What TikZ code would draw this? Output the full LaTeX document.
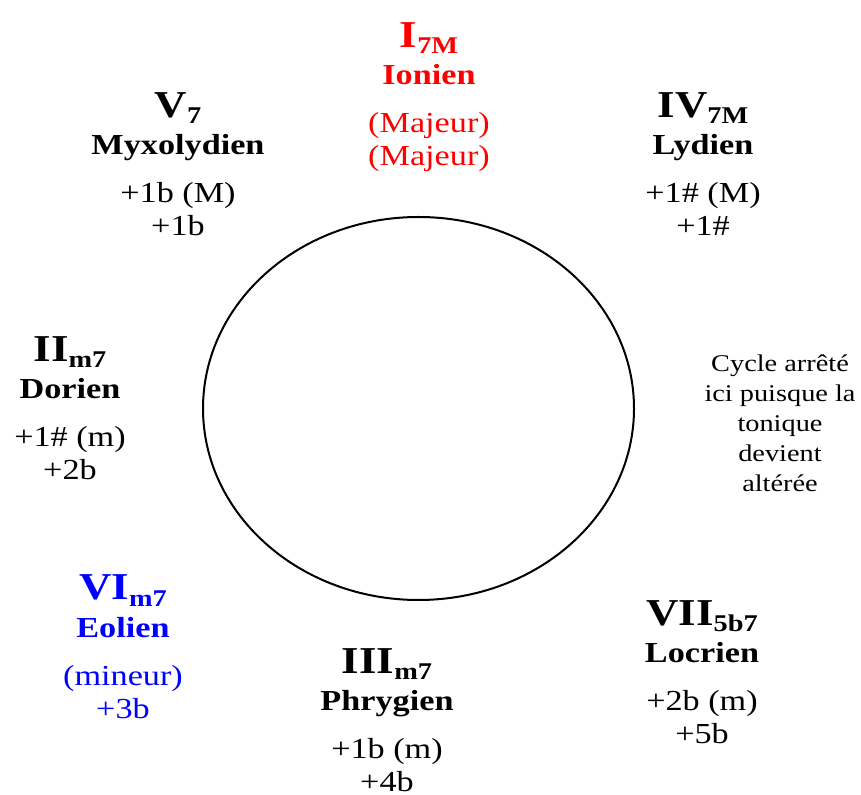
\documentclass[tikz,border=0pt]{standalone}
\usepackage{fontspec}
\setmainfont{Liberation Serif}[FakeStretch=1.18]
\usetikzlibrary{calc}

\newcommand\subnum[1]{{\fontsize{12}{13}\selectfont\raisebox{-3pt}{#1}}}

\begin{document}
\begin{tikzpicture}[x=0.5pt, y=-0.5pt,
    numeral/.style={anchor=base, inner sep=0pt, font=\fontsize{19}{22}\selectfont\bfseries},
    modename/.style={anchor=base, inner sep=0pt, font=\fontsize{14.5}{17}\selectfont\bfseries},
    degree/.style={anchor=base, inner sep=0pt, font=\fontsize{14.5}{17}\selectfont},
    remark/.style={anchor=north, inner sep=0pt, align=center, font=\fontsize{12}{15}\selectfont}]
    \useasboundingbox (0,0) rectangle (861,795);

    % Cercle des modes
    \draw[line width=1pt] (418.5,408.5) ellipse (215.5 and 191.5);

    % Ionien (tonique)
    \node[numeral, red] (ionN) at (429,48) {I\subnum{7M}};
    \node[modename, red] (ion) at ($(ionN.base)+(0,37)$) {Ionien};
    \node[degree, red] (ion1) at ($(ionN.base)+(0,85)$) {(Majeur)};
    \node[degree, red] (ion2) at ($(ionN.base)+(0,118)$) {(Majeur)};

    % Myxolydien
    \node[numeral] (mixN) at (178,118) {V\subnum{7}};
    \node[modename] (mix) at ($(mixN.base)+(0,37)$) {Myxolydien};
    \node[degree] (mix1) at ($(mixN.base)+(0,85)$) {+1b (M)};
    \node[degree] (mix2) at ($(mixN.base)+(0,118)$) {+1b};

    % Lydien
    \node[numeral] (lydN) at (703,118) {IV\subnum{7M}};
    \node[modename] (lyd) at ($(lydN.base)+(0,37)$) {Lydien};
    \node[degree] (lyd1) at ($(lydN.base)+(0,85)$) {+1\# (M)};
    \node[degree] (lyd2) at ($(lydN.base)+(0,118)$) {+1\#};

    % Dorien
    \node[numeral] (dorN) at (70,362) {II\subnum{m7}};
    \node[modename] (dor) at ($(dorN.base)+(0,37)$) {Dorien};
    \node[degree] (dor1) at ($(dorN.base)+(0,85)$) {+1\# (m)};
    \node[degree] (dor2) at ($(dorN.base)+(0,118)$) {+2b};

    % Eolien (relatif mineur)
    \node[numeral, blue] (eolN) at (123,600) {VI\subnum{m7}};
    \node[modename, blue] (eol) at ($(eolN.base)+(0,37)$) {Eolien};
    \node[degree, blue] (eol1) at ($(eolN.base)+(0,85)$) {(mineur)};
    \node[degree, blue] (eol2) at ($(eolN.base)+(0,118)$) {+3b};

    % Phrygien
    \node[numeral] (phrN) at (387,673) {III\subnum{m7}};
    \node[modename] (phr) at ($(phrN.base)+(0,37)$) {Phrygien};
    \node[degree] (phr1) at ($(phrN.base)+(0,85)$) {+1b (m)};
    \node[degree] (phr2) at ($(phrN.base)+(0,118)$) {+4b};

    % Locrien
    \node[numeral] (locN) at (702,625) {VII\subnum{5b7}};
    \node[modename] (loc) at ($(locN.base)+(0,37)$) {Locrien};
    \node[degree] (loc1) at ($(locN.base)+(0,85)$) {+2b (m)};
    \node[degree] (loc2) at ($(locN.base)+(0,118)$) {+5b};

    % Remarque
    \node[remark] (note) at (780,354) {Cycle arrêté\\ici puisque la\\tonique\\devient\\altérée};
\end{tikzpicture}
\end{document}
